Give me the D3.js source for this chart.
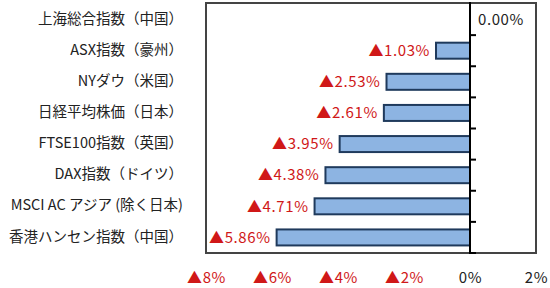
<!DOCTYPE html>
<html>
<head>
<meta charset="utf-8">
<script src="https://cdn.jsdelivr.net/npm/d3@7"></script>
<style>
  body { margin: 0; background: #fff; }
  text { font-family: "Noto Sans CJK JP", "Noto Sans", sans-serif; }
</style>
</head>
<body>
<div id="chart"></div>
<script>
var categories = ["上海総合指数（中国）", "ASX指数（豪州）", "NYダウ（米国）", "日経平均株価（日本）",
  "FTSE100指数（英国）", "DAX指数（ドイツ）", "MSCI AC アジア (除く日本)", "香港ハンセン指数（中国）"];
var values = [0.00, -1.03, -2.53, -2.61, -3.95, -4.38, -4.71, -5.86];
var tickValues = [-8, -6, -4, -2, 0, 2];

var width = 550, height = 288;
var plotLeft = 206, plotRight = 536, plotTop = 4, plotBottom = 253;

var svg = d3.select("#chart").append("svg")
  .attr("width", width)
  .attr("height", height);

var x = d3.scaleLinear().domain([-8, 2]).range([plotLeft, plotRight]);
var y = d3.scaleBand().domain(categories).range([plotTop, plotBottom]);
var bw = y.bandwidth();
var barH = 16;

// frame
svg.append("rect")
  .attr("x", plotLeft).attr("y", plotTop - 1)
  .attr("width", plotRight - plotLeft).attr("height", plotBottom - plotTop + 1)
  .attr("fill", "#fff")
  .attr("stroke", "#444")
  .attr("stroke-width", 2);

// bars
svg.selectAll(".bar")
  .data(values.map(function(v, i) { return { cat: categories[i], v: v }; }).filter(function(d) { return d.v !== 0; }))
  .enter().append("rect")
  .attr("class", "bar")
  .attr("x", function(d) { return x(d.v); })
  .attr("y", function(d) { return y(d.cat) + bw / 2 - barH / 2; })
  .attr("width", function(d) { return x(0) - x(d.v); })
  .attr("height", barH)
  .attr("fill", "#8db4e2")
  .attr("stroke", "#1f3a5c")
  .attr("stroke-width", 2);

// zero line + ticks
svg.append("line")
  .attr("x1", x(0)).attr("x2", x(0))
  .attr("y1", plotTop - 2).attr("y2", plotBottom + 1)
  .attr("stroke", "#000").attr("stroke-width", 2);

svg.selectAll(".ytick")
  .data(categories.slice(1).concat(["end"]))
  .enter().append("line")
  .attr("x1", x(0)).attr("x2", x(0) + 6)
  .attr("y1", function(d, i) { return plotTop + (i + 1) * bw; })
  .attr("y2", function(d, i) { return plotTop + (i + 1) * bw; })
  .attr("stroke", "#000").attr("stroke-width", 2);

// category labels
svg.selectAll(".cat")
  .data(categories)
  .enter().append("text")
  .attr("x", 183)
  .attr("y", function(d) { return y(d) + bw / 2 - 1; })
  .attr("dy", "0.35em")
  .attr("text-anchor", "end")
  .attr("font-size", 14.5)
  .attr("fill", "#222")
  .text(function(d) { return d; });

// value labels
function fmt(v) {
  return v < 0 ? "▲" + Math.abs(v).toFixed(2) + "%" : v.toFixed(2) + "%";
}
svg.selectAll(".val")
  .data(values)
  .enter().append("text")
  .attr("x", function(d) { return d < 0 ? x(d) - 6 : x(0) + 8; })
  .attr("y", function(d, i) { return y(categories[i]) + bw / 2; })
  .attr("dy", "0.35em")
  .attr("text-anchor", function(d) { return d < 0 ? "end" : "start"; })
  .attr("font-size", 15)
  .attr("letter-spacing", 0.6)
  .attr("fill", function(d) { return d < 0 ? "#d01818" : "#222"; })
  .text(fmt);

// x axis
var xAxis = d3.axisBottom(x)
  .tickValues(tickValues)
  .tickSize(0)
  .tickPadding(0)
  .tickFormat(function(d) { return d < 0 ? "▲" + Math.abs(d) + "%" : d + "%"; });

var gx = svg.append("g")
  .attr("transform", "translate(0,272)")
  .call(xAxis);
gx.select(".domain").remove();
gx.selectAll("text")
  .attr("font-size", 15)
  .attr("letter-spacing", 0.6)
  .attr("font-family", "Noto Sans CJK JP, Noto Sans, sans-serif")
  .attr("fill", function(d) { return d < 0 ? "#d01818" : "#222"; });
</script>
</body>
</html>
